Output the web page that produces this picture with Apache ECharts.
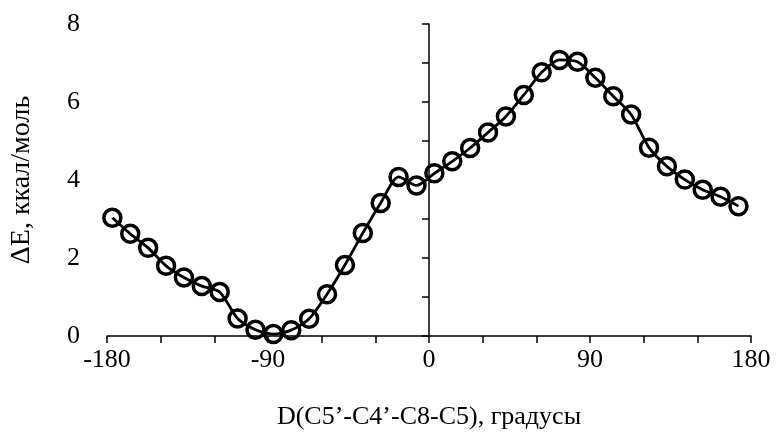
<!DOCTYPE html>
<html>
<head>
<meta charset="utf-8">
<script src="https://cdn.jsdelivr.net/npm/echarts@6/dist/echarts.min.js"></script>
<style>
html,body{margin:0;padding:0;background:#fff;}
#chart{width:777px;height:435px;}
</style>
</head>
<body>
<div id="chart"></div>
<script>
// Dihedral angle D(C5'-C4'-C8-C5), degrees
const angles = [-177,-167,-157,-147,-137,-127,-117,-107,-97,-87,-77,-67,-57,-47,-37,-27,-17,-7,3,13,23,33,43,53,63,73,83,93,103,113,123,133,143,153,163,173];
// Relative energy ΔE, kcal/mol
const energies = [3.03,2.62,2.26,1.80,1.50,1.28,1.13,0.45,0.16,0.05,0.15,0.44,1.07,1.82,2.64,3.41,4.08,3.86,4.17,4.48,4.82,5.22,5.63,6.18,6.76,7.08,7.03,6.62,6.15,5.68,4.83,4.35,4.01,3.75,3.57,3.33];
const xTickLabels = [-180,-90,0,90,180];
const yTickLabels = [0,2,4,6,8];
const xTitle = "D(C5’-C4’-C8-C5), градусы";
const yTitle = "ΔE, ккал/моль";

const FONT = '"Liberation Serif","Times New Roman",serif';
const seriesData = angles.map((a,i)=>[a, energies[i]]);

const chart = echarts.init(document.getElementById('chart'), null, {renderer:'canvas'});
chart.setOption({
  animation:false,
  backgroundColor:'#ffffff',
  grid:{left:107, right:26, top:24, bottom:98, containLabel:false},
  xAxis:{
    type:'value', min:-180, max:180, interval:30,
    axisLine:{onZero:false, lineStyle:{color:'#000', width:1.5}},
    axisTick:{show:true, length:7, lineStyle:{color:'#000', width:1.5}},
    splitLine:{show:false},
    axisLabel:{
      color:'#000', fontFamily:FONT, fontSize:26, margin:11,
      formatter: v => xTickLabels.indexOf(v) >= 0 ? String(v) : ''
    },
    name:xTitle, nameLocation:'middle', nameGap:68,
    nameTextStyle:{color:'#000', fontFamily:FONT, fontSize:26}
  },
  yAxis:[{
    type:'value', min:0, max:8, interval:1, position:'left',
    axisLine:{show:false, onZero:false},
    axisTick:{show:false},
    splitLine:{show:false},
    axisLabel:{
      color:'#000', fontFamily:FONT, fontSize:26, margin:27,
      formatter: v => yTickLabels.indexOf(v) >= 0 ? String(v) : ''
    },
    name:yTitle, nameLocation:'middle', nameGap:71, nameRotate:90,
    nameTextStyle:{color:'#000', fontFamily:FONT, fontSize:28}
  },{
    type:'value', min:0, max:8, interval:1, position:'left',
    axisLine:{show:true, onZero:true, lineStyle:{color:'#000', width:1.5}},
    axisTick:{show:true, length:7, lineStyle:{color:'#000', width:1.5}},
    axisLabel:{show:false},
    splitLine:{show:false}
  }],
  series:[{
    type:'line', xAxisIndex:0, yAxisIndex:0,
    data:seriesData,
    smooth:0.25,
    symbol:'circle', symbolSize:17,
    lineStyle:{color:'#000', width:2.8},
    itemStyle:{color:'rgba(255,255,255,0)', borderColor:'#000', borderWidth:3.5},
    z:3
  }]
});
</script>
</body>
</html>
